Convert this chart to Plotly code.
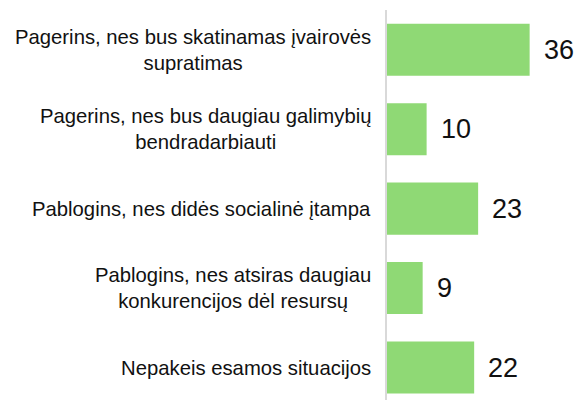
import plotly.graph_objects as go

categories = [
    "Pagerins, nes bus skatinamas įvairovės<br>supratimas",
    "Pagerins, nes bus daugiau galimybių<br>bendradarbiauti",
    "Pablogins, nes didės socialinė įtampa",
    "Pablogins, nes atsiras daugiau<br>konkurencijos dėl resursų",
    "Nepakeis esamos situacijos",
]
values = [36, 10, 23, 9, 22]

BAR_COLOR = "#8FD975"
TEXT_COLOR = "#111111"
FONT = "Liberation Sans, Arial, sans-serif"

fig = go.Figure()
fig.add_trace(go.Bar(
    x=values,
    y=categories,
    orientation="h",
    width=0.655,
    marker=dict(color=BAR_COLOR, line=dict(width=0)),
    hoverinfo="skip",
))

for c, v in zip(categories, values):
    fig.add_annotation(
        x=v, y=c, xref="x", yref="y",
        text=str(v), showarrow=False,
        xanchor="left", yanchor="middle", xshift=12,
        font=dict(family=FONT, size=27, color=TEXT_COLOR),
    )
    fig.add_annotation(
        x=0, y=c, xref="paper", yref="y",
        text=c, showarrow=False,
        xanchor="right", yanchor="middle", xshift=-14,
        align="center",
        font=dict(family=FONT, size=20.3, color=TEXT_COLOR),
    )

fig.update_layout(
    width=576, height=400,
    margin=dict(l=387, r=0, t=10, b=0, pad=0),
    paper_bgcolor="white", plot_bgcolor="white",
    showlegend=False,
    xaxis=dict(range=[0, 47.7], visible=False, fixedrange=True),
    yaxis=dict(
        type="category",
        range=[4.409, -0.5],
        showticklabels=False, ticks="",
        showgrid=False, zeroline=False,
        showline=True, linecolor="#D9D9D9", linewidth=2,
        fixedrange=True,
    ),
)

fig.write_html(
    "out.html",
    config={"displayModeBar": False, "staticPlot": True},
    post_script="document.body.style.margin='0';document.body.style.overflow='hidden';",
)
